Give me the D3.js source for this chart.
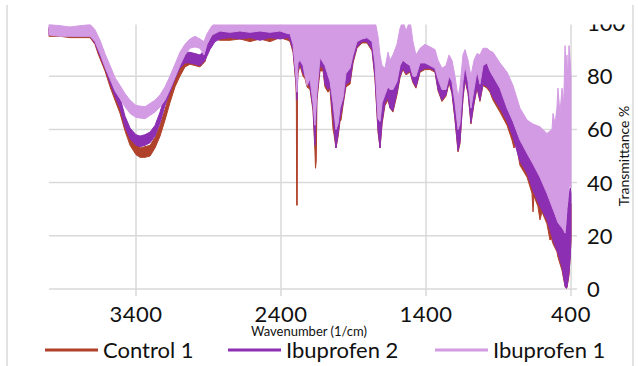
<!DOCTYPE html>
<html>
<head>
<meta charset="utf-8">
<script src="https://cdn.jsdelivr.net/npm/d3@7"></script>
<style>
  body { margin: 0; background: #fff; }
  svg { display: block; font-family: Lato, "Open Sans", sans-serif; }
</style>
</head>
<body>
<div id="chart"></div>
<script>
// axis ticks
const xTicks = [3400, 2400, 1400, 400];
const yTicks = [0, 20, 40, 60, 80, 100];
const seriesNames = ["Control 1", "Ibuprofen 2", "Ibuprofen 1"];

// spectra: [wavenumber, low, high] of the noisy band (transmittance %)
const control1 = [
  [4000, 95, 98], [3924, 95, 97.5], [3855, 94.5, 97], [3786, 94.5, 97.5], [3717, 94.5, 97.5],
  [3683, 92, 95.5], [3662, 88.5, 92], [3614, 82, 86], [3579, 76, 80], [3545, 71, 75],
  [3510, 66, 70], [3476, 59.5, 63.5], [3441, 54, 58], [3400, 50.5, 54.5], [3372, 49.5, 53],
  [3338, 49.5, 53.5], [3303, 50, 54], [3269, 53, 57], [3234, 57.5, 61.5], [3200, 63.5, 67.5],
  [3166, 70, 74], [3131, 76, 80], [3097, 80, 84], [3062, 83.5, 87.5], [3028, 84.5, 88.5],
  [2993, 84, 88], [2959, 83.5, 87.5], [2924, 85.5, 89.5], [2890, 93, 96.5], [2855, 94, 96.5],
  [2821, 93.5, 96.5], [2752, 93.5, 96.5], [2683, 94, 96.5], [2614, 93, 96.5], [2545, 94, 96.5],
  [2476, 93, 96.5], [2407, 94.5, 96.5], [2352, 93.5, 96], [2338, 93, 96], [2317, 89, 95],
  [2297, 77, 92], [2294, 70, 88], [2292, 31.5, 80], [2288, 31.5, 80], [2286, 78, 90],
  [2283, 81, 92], [2269, 84, 92], [2248, 80, 90], [2234, 79, 88], [2221, 76, 86],
  [2200, 75, 86], [2179, 67, 82], [2166, 52, 78], [2162, 45.4, 76], [2157, 48, 76],
  [2152, 71, 84], [2131, 82, 90], [2110, 82, 88], [2097, 76, 86], [2076, 74, 84],
  [2062, 75, 84], [2041, 60, 78], [2034, 58, 76], [2021, 53, 72], [2007, 57, 72],
  [1993, 63, 74], [1986, 63.5, 74], [1972, 69, 78], [1952, 76, 84], [1924, 77, 86],
  [1903, 85, 91], [1876, 90.5, 95], [1841, 92.5, 96], [1807, 92.5, 96], [1772, 89.5, 95],
  [1752, 79, 90], [1731, 59, 78], [1717, 53, 72], [1703, 62, 76], [1683, 69, 78],
  [1662, 71, 80], [1648, 68, 78], [1628, 66.5, 78], [1600, 73, 84], [1579, 79.5, 88],
  [1559, 82.5, 90], [1538, 80.5, 88], [1510, 81.5, 88], [1490, 77.5, 86], [1469, 75.5, 83],
  [1441, 81.5, 86], [1407, 82.5, 87], [1372, 82.5, 87], [1338, 81.5, 86], [1317, 74.5, 81],
  [1290, 70.5, 78], [1262, 72.5, 79], [1241, 77.5, 84], [1221, 73.5, 82], [1200, 63.5, 74],
  [1179, 51.5, 64], [1166, 54.5, 68], [1145, 71.5, 82], [1131, 78.5, 85], [1110, 73.5, 82],
  [1090, 62, 74], [1069, 69.5, 80], [1048, 75.5, 84], [1028, 70.5, 82], [1007, 76.5, 84],
  [979, 75.5, 84], [959, 74, 82], [938, 71, 80], [890, 66.5, 74], [841, 61.5, 67],
  [807, 56, 63], [793, 53, 60], [780, 55, 61], [752, 46.5, 55], [703, 42, 50],
  [669, 36, 46], [662, 29, 44], [655, 35, 44], [628, 31, 40], [614, 26, 38],
  [600, 29, 38], [566, 24.5, 34], [545, 18.4, 30], [535, 19, 29], [524, 17, 28],
  [497, 14, 24], [490, 12, 22], [462, 7, 20], [441, 1, 18], [434, 0.3, 18],
  [428, 0.5, 22], [414, 5, 30], [400, 18, 32]
];

const ibuprofen2 = [
  [4000, 95.5, 98.5], [3924, 95.5, 98], [3855, 95, 97.5], [3786, 95, 98], [3717, 95, 98],
  [3683, 92.5, 96], [3662, 89.5, 93], [3614, 83, 87], [3579, 77.5, 81.5], [3545, 72.5, 76.5],
  [3510, 68, 72], [3476, 61, 65], [3441, 56.5, 60.5], [3400, 54, 58], [3372, 53.5, 57.5],
  [3338, 54, 58], [3303, 55, 59], [3269, 57.5, 61.5], [3234, 62.5, 66.5], [3200, 69, 73],
  [3166, 74, 78], [3131, 79, 83], [3097, 83, 87], [3062, 85, 89], [3028, 85, 89],
  [2993, 84.5, 88.5], [2959, 84, 88], [2924, 86, 90], [2890, 90, 94], [2855, 93, 96.5],
  [2821, 94, 97], [2752, 94.5, 97], [2683, 94, 97], [2614, 94.5, 97], [2545, 93.5, 97],
  [2476, 94.5, 97], [2407, 94, 97], [2352, 94.5, 97], [2338, 93.5, 97], [2317, 90, 97],
  [2297, 78, 95], [2290, 71, 90], [2283, 82, 94], [2269, 85, 94], [2248, 81, 92],
  [2234, 80, 90], [2221, 78, 88], [2200, 76, 88], [2179, 68, 85], [2166, 54, 80],
  [2152, 72, 86], [2131, 84, 92], [2110, 83, 90], [2097, 77, 88], [2076, 75, 86],
  [2062, 76, 86], [2041, 65, 80], [2021, 53, 74], [2007, 58, 74], [1993, 64, 76],
  [1972, 70, 80], [1952, 77, 86], [1924, 78, 88], [1903, 86, 93], [1876, 91, 96],
  [1841, 93, 97], [1807, 93, 97], [1772, 90, 96], [1752, 80, 92], [1731, 60, 80],
  [1717, 53, 75], [1703, 63, 78], [1683, 70, 80], [1662, 72, 82], [1648, 68, 80],
  [1628, 67, 80], [1600, 74, 86], [1579, 80, 90], [1559, 83, 92], [1538, 81, 90],
  [1510, 82, 90], [1490, 78, 88], [1469, 76, 85], [1441, 82, 88], [1407, 83, 89],
  [1372, 83, 89], [1338, 82, 88], [1317, 75, 83], [1290, 71, 80], [1262, 73, 81],
  [1241, 78, 86], [1221, 74, 84], [1200, 64, 76], [1179, 52, 66], [1166, 55, 70],
  [1145, 72, 84], [1131, 79, 87], [1110, 74, 84], [1090, 62.5, 76], [1069, 70, 82],
  [1048, 76, 86], [1028, 71, 84], [1007, 77, 86], [979, 76, 86], [959, 74.6, 84],
  [938, 72, 82], [890, 68, 76], [841, 63, 69], [800, 57, 64], [752, 48, 57],
  [703, 43.5, 52], [662, 37, 48], [614, 31, 43], [566, 26, 37], [524, 18.4, 31],
  [490, 13.5, 26], [462, 8.3, 24], [441, 1, 22], [434, 0.3, 24], [428, 0.5, 28],
  [414, 6, 36], [405, 12, 38], [400, 20, 36]
];

const ibuprofen1 = [
  [4000, 95.5, 99.5], [3924, 95, 99], [3855, 95, 98.5], [3786, 95, 99], [3717, 95, 99.5],
  [3683, 93, 97.5], [3648, 88.5, 93.5], [3614, 83.5, 88.5], [3579, 79, 84], [3545, 74.5, 79.5],
  [3510, 71.5, 76.5], [3476, 68.5, 73.5], [3441, 66, 71], [3400, 64.5, 69], [3338, 64, 68.5],
  [3269, 66.5, 71], [3234, 68.5, 73], [3200, 71, 76], [3166, 75, 80], [3131, 79.5, 84.5],
  [3097, 84, 89], [3062, 88, 92], [3028, 90.5, 94], [2993, 91, 95], [2959, 90.5, 94],
  [2931, 88, 93], [2910, 92, 96], [2876, 95.5, 99], [2821, 97, 101], [2752, 96.5, 101],
  [2683, 97, 101], [2614, 96.5, 101], [2545, 97, 101], [2476, 96.5, 101], [2407, 97, 101],
  [2352, 96, 101], [2338, 96, 101], [2317, 92, 101],
  [2297, 80, 101], [2290, 74, 101], [2283, 85, 101], [2269, 86, 101], [2248, 84, 101],
  [2234, 80, 101], [2221, 76.5, 101], [2200, 79, 101], [2179, 70, 101], [2166, 61.5, 101],
  [2152, 74, 101], [2131, 87, 101], [2097, 84, 101], [2062, 78, 101], [2041, 70, 101],
  [2021, 60, 101], [2007, 62, 101], [1993, 68, 101], [1972, 72, 101], [1952, 81, 101],
  [1924, 83, 101], [1903, 88, 101], [1876, 93, 101], [1841, 94, 101], [1807, 94.5, 101],
  [1772, 93, 101], [1752, 85, 101], [1731, 64, 95], [1717, 63, 88], [1703, 70, 84],
  [1683, 73, 83], [1662, 76, 89], [1648, 75, 86], [1628, 75, 88], [1600, 78, 92],
  [1579, 84, 98], [1559, 86, 101], [1538, 85, 97], [1510, 84, 101], [1490, 80, 93],
  [1469, 80, 88], [1441, 85, 90.5], [1407, 85, 92], [1372, 84, 91], [1338, 83, 90],
  [1317, 79, 86], [1290, 75, 83], [1262, 75, 84], [1241, 80, 88], [1221, 78, 86],
  [1200, 70, 80], [1179, 60, 72], [1166, 62, 76], [1145, 78, 88], [1131, 84, 90],
  [1110, 78, 86], [1090, 68, 80], [1069, 75, 86], [1048, 82, 88.5], [1028, 77, 88],
  [1007, 84, 90.5], [979, 85, 90.5], [959, 82, 89.5], [938, 80, 89], [890, 75.5, 85],
  [841, 68, 81.5], [800, 63, 76.5], [752, 56, 68], [703, 51, 63.5], [662, 47, 62],
  [614, 42, 61], [566, 36, 58.5], [531, 31, 60], [524, 30, 66], [510, 28, 62],
  [497, 26, 68], [490, 25, 75.5], [476, 24, 66], [462, 23, 75.5], [450, 22, 70],
  [441, 21, 91.5], [434, 25, 80], [428, 30, 88], [420, 34, 75], [414, 38, 91.5],
  [405, 40, 85], [400, 38, 80]
];

const series = [control1, ibuprofen2, ibuprofen1];
const colors = ["#b0412a", "#8c2fb3", "#d39be3"];

const width = 638, height = 366;
const svg = d3.select("#chart").append("svg")
  .attr("width", width)
  .attr("height", height);

svg.append("rect").attr("width", width).attr("height", height).attr("fill", "#fff");

// frame lines at the sides
svg.append("line").attr("x1", 7).attr("x2", 7).attr("y1", 5).attr("y2", height)
  .attr("stroke", "#d9d9d9").attr("stroke-width", 1.5);
svg.append("line").attr("x1", 633).attr("x2", 633).attr("y1", 5).attr("y2", height)
  .attr("stroke", "#d9d9d9").attr("stroke-width", 1.5);

const x = d3.scaleLinear().domain([4000, 400]).range([49, 571]);
const y = d3.scaleLinear().domain([0, 100]).range([289, 23]);

svg.append("clipPath").attr("id", "clip")
  .append("rect").attr("x", 0).attr("y", 24.5).attr("width", width).attr("height", height);

const g = svg.append("g").attr("clip-path", "url(#clip)");

// grid
g.selectAll("line.hgrid")
  .data(yTicks)
  .enter()
  .append("line")
  .attr("class", "hgrid")
  .attr("x1", x(4000)).attr("x2", x(400) + 6)
  .attr("y1", d => y(d)).attr("y2", d => y(d))
  .attr("stroke", d => d === 100 ? "#dcc4ea" : "#d9d9d9")
  .attr("stroke-width", 1.5);

g.selectAll("line.vgrid")
  .data(xTicks)
  .enter()
  .append("line")
  .attr("class", "vgrid")
  .attr("x1", d => x(d)).attr("x2", d => x(d))
  .attr("y1", y(100)).attr("y2", y(0) + 7)
  .attr("stroke", "#d9d9d9")
  .attr("stroke-width", 1.5);

// spectra as noisy bands
const area = d3.area()
  .x(d => x(d[0]))
  .y0(d => y(d[1]))
  .y1(d => y(d[2]));

g.selectAll("path.band")
  .data(series)
  .enter()
  .append("path")
  .attr("class", "band")
  .attr("d", area)
  .attr("fill", (d, i) => colors[i])
  .attr("stroke", (d, i) => colors[i])
  .attr("stroke-width", 1)
  .attr("stroke-linejoin", "round");

// y tick labels on the right
g.selectAll("text.ytick")
  .data(yTicks)
  .enter()
  .append("text")
  .attr("class", "ytick")
  .attr("x", 587)
  .attr("y", d => y(d))
  .attr("dy", "0.36em")
  .attr("font-size", 22)
  .attr("fill", "#111")
  .text(d => d);

// x tick labels
svg.selectAll("text.xtick")
  .data(xTicks)
  .enter()
  .append("text")
  .attr("class", "xtick")
  .attr("x", d => x(d))
  .attr("y", 322)
  .attr("text-anchor", "middle")
  .attr("font-size", 22)
  .attr("letter-spacing", 0.5)
  .attr("fill", "#111")
  .text(d => d);

svg.append("text")
  .attr("x", 309).attr("y", 336)
  .attr("text-anchor", "middle")
  .attr("font-size", 13)
  .attr("fill", "#111")
  .text("Wavenumber (1/cm)");

svg.append("text")
  .attr("transform", "translate(629,156) rotate(-90)")
  .attr("text-anchor", "middle")
  .attr("font-size", 14)
  .attr("fill", "#111")
  .text("Transmittance %");

// legend
const legendX = [45, 228, 435];
const legend = svg.selectAll("g.legend")
  .data(seriesNames)
  .enter()
  .append("g")
  .attr("class", "legend")
  .attr("transform", (d, i) => `translate(${legendX[i]},350)`);

legend.append("line")
  .attr("x1", 0).attr("x2", 53)
  .attr("stroke", (d, i) => colors[i])
  .attr("stroke-width", 3);

legend.append("text")
  .attr("x", 58)
  .attr("y", 8)
  .attr("font-size", 22)
  .attr("fill", "#111")
  .text(d => d);
</script>
</body>
</html>
